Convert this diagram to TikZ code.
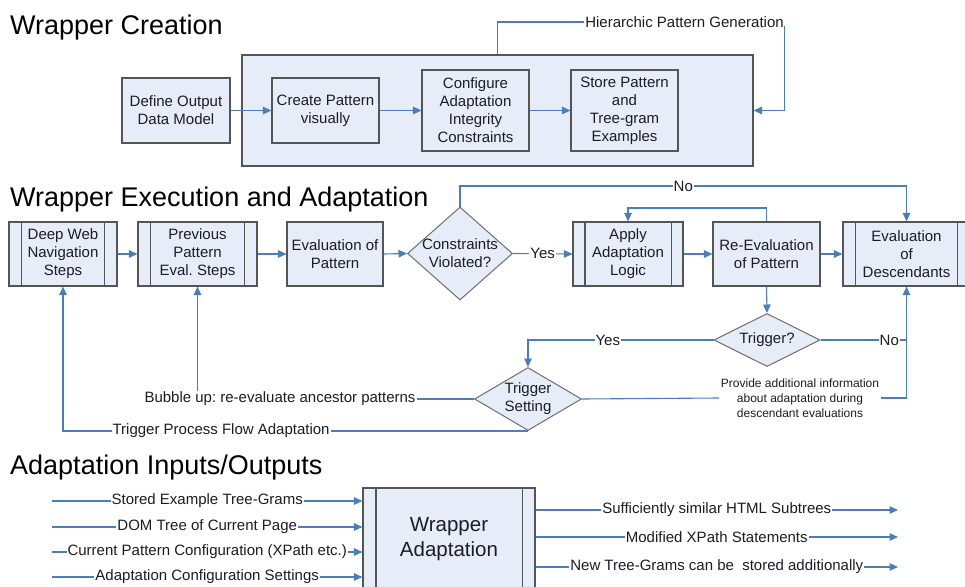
\documentclass[tikz,border=0pt]{standalone}
\usepackage{fontspec}
\setmainfont{Liberation Sans}
\usetikzlibrary{shapes.geometric,arrows.meta}
\definecolor{boxfill}{HTML}{E6EDF8}
\definecolor{boxline}{HTML}{555555}
\definecolor{dialine}{HTML}{6E6E6E}
\definecolor{conn}{HTML}{4A7EBB}
\definecolor{txt}{HTML}{1C1C28}
\frenchspacing
\tikzset{
 boxn/.style={draw=boxline, fill=boxfill, line width=1.1pt, rectangle, align=center, inner sep=0pt, font=\fontsize{15}{18}\selectfont, text=txt},
 dian/.style={draw=dialine, fill=boxfill, line width=1pt, diamond, inner sep=0pt},
 dtext/.style={align=center, inner sep=0pt, font=\fontsize{15}{18}\selectfont, text=txt},
 link/.style={draw=conn, line width=1.1pt},
 arr/.style={link, -{Triangle[length=8.5pt,width=7.5pt]}},
 lab/.style={fill=white, inner sep=1pt, font=\fontsize{15}{18}\selectfont, text=txt},
 smalllab/.style={fill=white, inner sep=2pt, align=center, font=\fontsize{12}{15}\selectfont, text=txt},
 ttl/.style={font=\fontsize{27}{32}\selectfont, anchor=base west, inner sep=0pt, text=black},
}
\newcommand{\ppbars}[2]{\draw[draw=boxline,line width=1.1pt] ([xshift=#2]#1.north west) -- ([xshift=#2]#1.south west) ([xshift=-#2]#1.north east) -- ([xshift=-#2]#1.south east);}
\begin{document}
\begin{tikzpicture}[x=1pt,y=-1pt]
\useasboundingbox (0,0) rectangle (965,586);
\clip (0,0) rectangle (965,586);
\fill[white] (0,0) rectangle (965,586);

% ---------- Wrapper Creation ----------
\node[ttl] (t1) at (10,35) {Wrapper Creation};
\node[boxn, minimum width=511pt, minimum height=111pt] (cont) at (497.5,110.5) {};
\node[boxn, minimum width=108pt, minimum height=65pt] (def) at (176,110.5) {Define Output\\Data Model};
\node[boxn, minimum width=107pt, minimum height=65pt] (cre) at (325.5,110.5) {Create Pattern\\visually};
\node[boxn, minimum width=107pt, minimum height=81pt] (cfg) at (475.5,110.5) {Configure\\Adaptation\\Integrity\\Constraints};
\node[boxn, minimum width=107pt, minimum height=81pt] (sto) at (624.5,110.5) {Store Pattern\\and\\Tree-gram\\Examples};
\draw[arr] (def) -- (cre);
\draw[arr] (cre) -- (cfg);
\draw[arr] (cfg) -- (sto);
\node[lab] (hpg) at (684.5,22) {Hierarchic Pattern Generation};
\draw[link] (cont.north) |- (hpg.west);
\draw[arr] ([yshift=3pt]hpg.south east) |- (cont.east);

% ---------- Wrapper Execution and Adaptation ----------
\node[ttl] (t2) at (10,206) {Wrapper Execution and Adaptation};
\node[boxn, minimum width=108pt, minimum height=64pt] (deep) at (63,254) {Deep Web\\Navigation\\Steps};
\ppbars{deep}{13pt}
\node[boxn, minimum width=119pt, minimum height=64pt] (prev) at (197.5,254) {Previous\\Pattern\\Eval. Steps};
\ppbars{prev}{13pt}
\node[boxn, minimum width=96pt, minimum height=64pt] (evp) at (335,254) {Evaluation of\\Pattern};
\node[dian, minimum width=105pt, minimum height=93pt] (cv) at (460,253.5) {};
\node[dtext] (cvt) at (cv) {Constraints\\Violated?};
\node[boxn, minimum width=110pt, minimum height=64pt] (apl) at (628,254) {Apply\\Adaptation\\Logic};
\ppbars{apl}{12.5pt}
\node[boxn, minimum width=107pt, minimum height=64pt] (reev) at (766.5,254) {Re-Evaluation\\of Pattern};
\node[boxn, minimum width=127pt, minimum height=64pt] (evd) at (906.5,254) {Evaluation\\of\\Descendants};
\ppbars{evd}{13pt}
\node[dian, minimum width=106pt, minimum height=53pt] (trig) at (767,340) {};
\node[dtext] (trigt) at (trig) {Trigger?};
\node[dian, minimum width=107pt, minimum height=63pt] (ts) at (528,399) {};
\node[dtext] (tst) at (ts) {Trigger\\Setting};

\draw[arr] (deep) -- (prev);
\draw[arr] (prev) -- (evp);
\draw[arr] (evp.east) -- (cv.west);
\draw[arr] (cv.east) -- node[lab]{Yes} (apl.west);
\draw[arr] (apl) -- (reev);
\draw[arr] (reev) -- (evd);
\draw[arr] (cv.north) -- (cv.north |- 0,186) -| node[lab,pos=0.25]{No} (evd.north);
\draw[arr] (reev.north) -- (reev.north |- 0,208) -| (apl.north);
\draw[arr] (reev.south) -- (trig.north);
\draw[arr] (trig.west) -| node[lab,pos=0.285]{Yes} (ts.north);
\node[smalllab] (prov) at (800,398) {Provide additional information\\about adaptation during\\descendant evaluations};
\draw[link] (ts.east) -- (prov.west);
\draw[arr] (prov.east) -| (evd.south);
\draw[link] (trig.east) -- node[lab,pos=0.8]{No} (trig.east -| evd.south);
\node[lab] (bub) at (280,399) {Bubble up: re-evaluate ancestor patterns};
\draw[link] (ts.west) -- (bub.east);
\draw[arr] (bub.north -| prev.south) -- (prev.south);
\draw[arr] (ts.south) -| node[lab,pos=0.33]{Trigger Process Flow Adaptation} (deep.south);

% ---------- Adaptation Inputs/Outputs ----------
\node[ttl] (t3) at (10,474) {Adaptation Inputs/Outputs};
\node[boxn, minimum width=172pt, minimum height=102pt, font=\fontsize{20.5}{24.5}\selectfont] (wa) at (449,539) {Wrapper\\Adaptation};
\ppbars{wa}{13.5pt}
\coordinate (i1) at (52,501);
\coordinate (i2) at (52,527);
\coordinate (i3) at (52,552);
\coordinate (i4) at (52,577);
\draw[arr] (i1) -- node[lab]{Stored Example Tree-Grams} (i1 -| wa.west);
\draw[arr] (i2) -- node[lab]{DOM Tree of Current Page} (i2 -| wa.west);
\draw[arr] (i3) -- node[lab]{Current Pattern Configuration (XPath etc.)} (i3 -| wa.west);
\draw[arr] (i4) -- node[lab]{Adaptation Configuration Settings} (i4 -| wa.west);
\coordinate (o1) at (898,510);
\coordinate (o2) at (898,537);
\coordinate (o3) at (898,567);
\draw[arr] (o1 -| wa.east) -- node[lab]{Sufficiently similar HTML Subtrees} (o1);
\draw[arr] (o2 -| wa.east) -- node[lab]{Modified XPath Statements} (o2);
\draw[arr] (o3 -| wa.east) -- node[lab]{New Tree-Grams can be\ \ stored additionally} (o3);
\end{tikzpicture}
\end{document}
